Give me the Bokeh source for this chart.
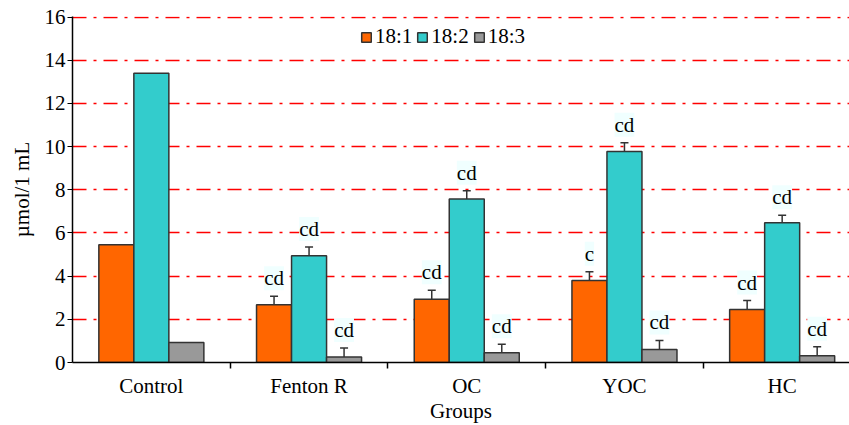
from bokeh.plotting import figure
from bokeh.models import (ColumnDataSource, Range1d, FixedTicker, Whisker, TeeHead,
                          LabelSet, Legend, LegendItem)
from bokeh.embed import file_html
from bokeh.resources import INLINE

groups = ["Control", "Fenton R", "OC", "YOC", "HC"]
series = ["18:1", "18:2", "18:3"]
v181 = [5.45, 2.67, 2.93, 3.80, 2.45]
v182 = [13.40, 4.95, 7.58, 9.78, 6.48]
v183 = [0.93, 0.25, 0.45, 0.60, 0.31]
e181 = [0, 0.40, 0.42, 0.40, 0.42]
e182 = [0, 0.40, 0.38, 0.40, 0.34]
e183 = [0, 0.42, 0.40, 0.42, 0.42]
l181 = ["", "cd", "cd", "c", "cd"]
l182 = ["", "cd", "cd", "cd", "cd"]
l183 = ["", "cd", "cd", "cd", "cd"]
y_ticks = [0, 2, 4, 6, 8, 10, 12, 14, 16]

colors = ["#FF6600", "#33CCCC", "#999999"]
values = [v181, v182, v183]
errors = [e181, e182, e183]
letters = [l181, l182, l183]
FONT = "Liberation Serif"
FS = "21px"
BW = 0.222

p = figure(width=849, height=425, output_backend="svg", toolbar_location=None,
           x_range=Range1d(0, 4.927), y_range=Range1d(0, 16.03),
           min_border_left=72, min_border_right=0, min_border_top=16, min_border_bottom=63)
p.outline_line_color = None
p.background_fill_color = "white"

items = []
for j, s in enumerate(series):
    xs = [i + 0.5 + (j - 1) * BW for i in range(len(groups))]
    src = ColumnDataSource(dict(x=xs, top=values[j]))
    r = p.vbar(x="x", top="top", width=BW, source=src, fill_color=colors[j],
               line_color="#333333", line_width=1.5)
    items.append(LegendItem(label=s, renderers=[r]))
    keep = [i for i in range(len(groups)) if errors[j][i] > 0]
    wsrc = ColumnDataSource(dict(
        x=[xs[i] for i in keep],
        lower=[values[j][i] for i in keep],
        upper=[values[j][i] + errors[j][i] for i in keep],
        lab=[letters[j][i] for i in keep]))
    w = Whisker(base="x", lower="lower", upper="upper", source=wsrc, dimension="height",
                line_color="#333333", line_width=1.5, lower_head=None,
                upper_head=TeeHead(size=8, line_color="#333333", line_width=1.5))
    p.add_layout(w)
    ls = LabelSet(x="x", y="upper", text="lab", source=wsrc, y_offset=6,
                  text_align="center", text_baseline="bottom",
                  text_font=FONT, text_font_size=FS, text_color="black",
                  background_fill_color="#F0FFFF")
    p.add_layout(ls)

legend = Legend(items=items, orientation="horizontal", location=(288, 313),
                glyph_width=12, glyph_height=12, label_standoff=3, spacing=4,
                padding=0, margin=0, background_fill_alpha=0, border_line_alpha=0,
                label_text_font=FONT, label_text_font_size=FS, label_height=22,
                label_text_color="black")
p.add_layout(legend)

# grid
p.xgrid.grid_line_color = None
p.ygrid.ticker = FixedTicker(ticks=y_ticks)
p.ygrid.grid_line_color = "#FF0000"
p.ygrid.grid_line_width = 1.5
p.ygrid.grid_line_dash = "14 7 3 7"

# y axis
p.yaxis.ticker = FixedTicker(ticks=y_ticks)
p.yaxis.axis_label = "µmol/1 mL"
p.yaxis.axis_label_text_font = FONT
p.yaxis.axis_label_text_font_size = FS
p.yaxis.axis_label_text_font_style = "normal"
p.yaxis.axis_label_text_color = "black"
p.yaxis.axis_label_standoff = 8
p.yaxis.major_label_text_font = FONT
p.yaxis.major_label_text_font_size = FS
p.yaxis.major_label_text_color = "black"
p.yaxis.major_tick_out = 5
p.yaxis.major_tick_in = 0
p.yaxis.major_tick_line_color = "black"
p.yaxis.minor_tick_line_color = None
p.yaxis.major_label_standoff = 2
p.yaxis.axis_line_color = "black"
p.yaxis.axis_line_width = 1.5

# x axis
centers = [i + 0.5 for i in range(len(groups))]
bounds = [i + 1.0 for i in range(len(groups) - 1)]
p.xaxis.ticker = FixedTicker(ticks=centers, minor_ticks=bounds)
p.xaxis.major_label_overrides = {c: g for c, g in zip(centers, groups)}
p.xaxis.major_tick_out = 0
p.xaxis.major_tick_in = 0
p.xaxis.minor_tick_out = 6
p.xaxis.minor_tick_in = 0
p.xaxis.minor_tick_line_color = "black"
p.xaxis.minor_tick_line_width = 1.5
p.xaxis.major_label_standoff = 5
p.xaxis.major_label_text_font = FONT
p.xaxis.major_label_text_font_size = FS
p.xaxis.major_label_text_color = "black"
p.xaxis.axis_label = "Groups"
p.xaxis.axis_label_text_font = FONT
p.xaxis.axis_label_text_font_size = FS
p.xaxis.axis_label_text_font_style = "normal"
p.xaxis.axis_label_text_color = "black"
p.xaxis.axis_label_standoff = -2
p.xaxis.axis_line_color = "black"
p.xaxis.axis_line_width = 1.5

open("out.html", "w").write(file_html(p, INLINE))
